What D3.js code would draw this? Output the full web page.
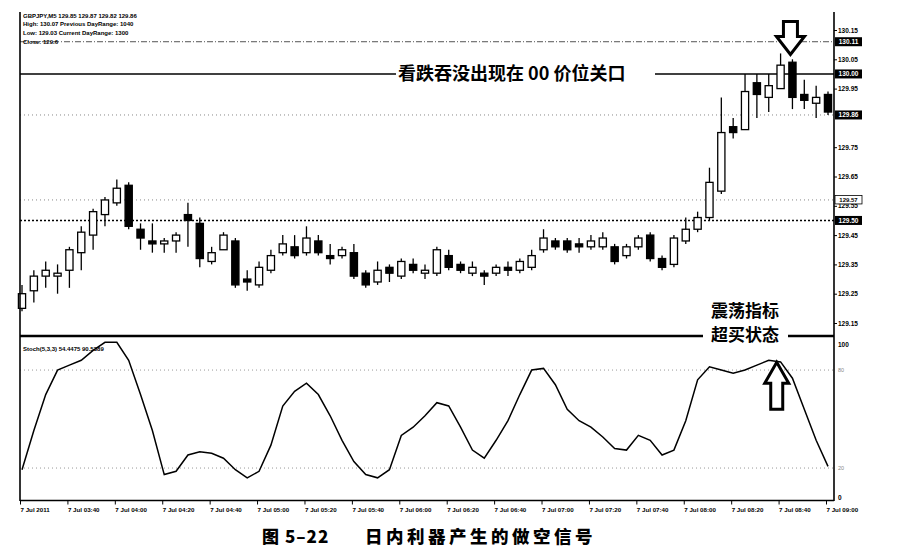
<!DOCTYPE html>
<html><head><meta charset="utf-8">
<script src="https://cdn.jsdelivr.net/npm/d3@7"></script>
<style>body{margin:0;background:#fff}svg{display:block}</style>
</head><body><svg id="c" width="902" height="553"></svg>
<script>
// ---- data ----
const opens  = [129.20,129.26,129.31,129.31,129.33,129.39,129.45,129.52,129.56,129.62,129.47,129.43,129.42,129.43,129.52,129.49,129.36,129.40,129.43,129.30,129.28,129.33,129.39,129.41,129.39,129.43,129.38,129.38,129.39,129.32,129.29,129.34,129.31,129.35,129.32,129.32,129.38,129.35,129.32,129.32,129.32,129.34,129.33,129.34,129.40,129.43,129.43,129.42,129.41,129.41,129.41,129.38,129.41,129.45,129.37,129.35,129.43,129.47,129.51,129.60,129.82,129.81,129.97,129.92,129.95,130.04,129.93,129.90,129.93];
const highs  = [129.28,129.33,129.36,129.35,129.41,129.48,129.54,129.58,129.64,129.63,129.49,129.49,129.44,129.46,129.56,129.51,129.41,129.46,129.44,129.33,129.36,129.40,129.45,129.45,129.48,129.45,129.42,129.41,129.42,129.33,129.36,129.35,129.37,129.37,129.35,129.41,129.40,129.36,129.36,129.33,129.35,129.36,129.37,129.40,129.47,129.44,129.44,129.44,129.45,129.46,129.42,129.42,129.45,129.46,129.38,129.45,129.51,129.53,129.68,129.92,129.85,130.00,130.00,130.00,130.07,130.05,129.98,129.96,129.94];
const lows   = [129.19,129.22,129.27,129.25,129.27,129.33,129.40,129.48,129.55,129.47,129.40,129.39,129.39,129.39,129.41,129.34,129.35,129.40,129.27,129.26,129.27,129.32,129.38,129.37,129.38,129.38,129.35,129.37,129.30,129.27,129.28,129.29,129.30,129.32,129.30,129.31,129.33,129.32,129.31,129.28,129.31,129.31,129.32,129.33,129.39,129.40,129.39,129.39,129.40,129.40,129.35,129.37,129.40,129.36,129.33,129.34,129.42,129.46,129.50,129.59,129.78,129.81,129.85,129.87,129.95,129.88,129.88,129.85,129.86];
const closes = [129.25,129.31,129.33,129.32,129.40,129.46,129.53,129.57,129.61,129.48,129.44,129.42,129.43,129.45,129.50,129.37,129.39,129.45,129.28,129.29,129.34,129.38,129.42,129.38,129.44,129.39,129.37,129.40,129.31,129.28,129.33,129.32,129.36,129.33,129.33,129.40,129.34,129.33,129.34,129.31,129.34,129.33,129.36,129.38,129.44,129.41,129.40,129.41,129.43,129.44,129.36,129.41,129.44,129.37,129.34,129.44,129.47,129.51,129.63,129.80,129.80,129.94,129.93,129.96,130.03,129.92,129.91,129.92,129.87];
const stoch  = [19,43,65,80,83,86,92,97,97,86,65,43,16,18,28,30,29,26,19,14,18,34,58,67,72,65,52,37,24,16,14,19,40,45,52,60,58,45,31,26,37,49,65,80,81,71,56,49,45,39,32,31,40,37,28,31,49,74,82,80,78,80,83,86,85,75,56,37,21];
const xTickIdx    = [0,4,8,12,16,20,24,28,32,36,40,44,48,52,56,60,64,68];
const xTickLabels = ["7 Jul 2011","7 Jul 03:40","7 Jul 04:00","7 Jul 04:20","7 Jul 04:40","7 Jul 05:00","7 Jul 05:20","7 Jul 05:40","7 Jul 06:00","7 Jul 06:20","7 Jul 06:40","7 Jul 07:00","7 Jul 07:20","7 Jul 07:40","7 Jul 08:00","7 Jul 08:20","7 Jul 08:40","7 Jul 09:00"];
const priceTicks  = [130.15,130.05,129.95,129.75,129.65,129.55,129.45,129.35,129.25,129.15];
const markLevels  = [130.11,130.00,129.86,129.50];
const outlineLevel = 129.57;
const stochLevels = [80,20];
const infoLines = ["GBPJPY,M5  129.85 129.87 129.82 129.86","High: 130.07 Previous DayRange: 1040","Low: 129.03 Current DayRange: 1300","Close: 129.6"];

// ---- scales ----
const svg = d3.select("#c");
const L = 20, R = 834;
const x  = d3.scaleLinear().domain([0, 68]).range([22, 828]);
const y  = d3.scaleLinear().domain([129.15, 130.15]).range([323, 30]);
const ys = d3.scaleLinear().domain([0, 100]).range([500.7, 337.4]);
const tiny = "Liberation Sans, Arial, sans-serif";
const cjk = "'Noto Sans CJK SC', sans-serif";

// horizontal level lines
svg.append("line").attr("x1",L).attr("x2",R).attr("y1",y(130.11)).attr("y2",y(130.11))
  .attr("stroke","#555").attr("stroke-width",1).attr("stroke-dasharray","6,2,1,2");
svg.append("line").attr("x1",L).attr("x2",R).attr("y1",y(129.86)).attr("y2",y(129.86))
  .attr("stroke","#888").attr("stroke-width",1).attr("stroke-dasharray","1,3");
svg.append("line").attr("x1",L).attr("x2",R).attr("y1",y(outlineLevel)).attr("y2",y(outlineLevel))
  .attr("stroke","#888").attr("stroke-width",1).attr("stroke-dasharray","1,3");
svg.append("line").attr("x1",L).attr("x2",R).attr("y1",y(129.50)).attr("y2",y(129.50))
  .attr("stroke","#000").attr("stroke-width",1.6).attr("stroke-dasharray","2,2");
// solid "00" line, interrupted by annotation text
svg.append("line").attr("x1",L).attr("x2",396).attr("y1",y(130.00)).attr("y2",y(130.00)).attr("stroke","#000").attr("stroke-width",1.6);
svg.append("line").attr("x1",655).attr("x2",R).attr("y1",y(130.00)).attr("y2",y(130.00)).attr("stroke","#000").attr("stroke-width",1.6);

// stoch level lines
stochLevels.forEach(v=>{
  svg.append("line").attr("x1",L).attr("x2",R).attr("y1",ys(v)).attr("y2",ys(v))
    .attr("stroke","#999").attr("stroke-width",1).attr("stroke-dasharray","1,3");
});

// candles
const idx = d3.range(opens.length);
const g = svg.append("g");
g.selectAll("line.wick").data(idx).join("line").attr("class","wick")
  .attr("x1",i=>x(i)).attr("x2",i=>x(i)).attr("y1",i=>y(highs[i])).attr("y2",i=>y(lows[i]))
  .attr("stroke","#000").attr("stroke-width",1.3);
g.selectAll("rect.body").data(idx).join("rect").attr("class","body")
  .attr("x",i=>x(i)-3.6).attr("width",7.2)
  .attr("y",i=>Math.min(y(opens[i]),y(closes[i])))
  .attr("height",i=>Math.max(1.2,Math.abs(y(opens[i])-y(closes[i]))))
  .attr("fill",i=>closes[i]>=opens[i]?"#fff":"#000")
  .attr("stroke","#000").attr("stroke-width",1.3);

// stochastic line
svg.append("path").datum(stoch)
  .attr("d", d3.line().x((d,i)=>x(i)).y(d=>ys(d)))
  .attr("fill","none").attr("stroke","#000").attr("stroke-width",1.5);

// frame
svg.append("line").attr("x1",L).attr("x2",L).attr("y1",12).attr("y2",501).attr("stroke","#000").attr("stroke-width",1.6);
svg.append("line").attr("x1",R).attr("x2",R).attr("y1",12).attr("y2",501).attr("stroke","#000").attr("stroke-width",1.6);
svg.append("line").attr("x1",L).attr("x2",R).attr("y1",500.5).attr("y2",500.5).attr("stroke","#000").attr("stroke-width",1.6);
svg.append("line").attr("x1",L).attr("x2",703).attr("y1",336).attr("y2",336).attr("stroke","#000").attr("stroke-width",2.6);
svg.append("line").attr("x1",788).attr("x2",R).attr("y1",336).attr("y2",336).attr("stroke","#000").attr("stroke-width",2.6);

// price axis
const ay = svg.append("g").attr("transform",`translate(${R},0)`)
  .call(d3.axisRight(y).tickValues(priceTicks).tickSize(3).tickFormat(d3.format(".2f")));
ay.select(".domain").remove();
ay.selectAll("text").attr("font-family",tiny).attr("font-size",6.5).attr("font-weight","bold").attr("x",4);

// marked levels (black boxes)
markLevels.forEach(v=>{
  svg.append("rect").attr("x",R+1).attr("y",y(v)-4.5).attr("width",27).attr("height",9).attr("fill","#000");
  svg.append("text").attr("x",R+14.5).attr("y",y(v)+2.3).attr("text-anchor","middle")
    .attr("font-family",tiny).attr("font-size",6.5).attr("font-weight","bold").attr("fill","#fff").text(v.toFixed(2));
});
svg.append("rect").attr("x",R+1).attr("y",y(outlineLevel)-4.5).attr("width",27).attr("height",8.5)
  .attr("fill","#fff").attr("stroke","#000").attr("stroke-width",0.8);
svg.append("text").attr("x",R+14.5).attr("y",y(outlineLevel)+2).attr("text-anchor","middle")
  .attr("font-family",tiny).attr("font-size",6).attr("font-weight","bold").text(outlineLevel.toFixed(2));

// stoch axis labels
svg.append("text").attr("x",R+4).attr("y",ys(100)+10).attr("font-family",tiny).attr("font-size",6.5).attr("font-weight","bold").text("100");
svg.append("text").attr("x",R+4).attr("y",ys(0)-1).attr("font-family",tiny).attr("font-size",6.5).attr("font-weight","bold").text("0");
stochLevels.forEach(v=>{
  svg.append("text").attr("x",R+4).attr("y",ys(v)+2).attr("font-family",tiny).attr("font-size",5.5).attr("fill","#888").text(v);
});

// time axis
const ax = svg.append("g").attr("transform","translate(0,500.5)")
  .call(d3.axisBottom(x).tickValues(xTickIdx).tickSize(4).tickFormat((d,i)=>xTickLabels[i]));
ax.select(".domain").remove();
ax.selectAll(".tick line").attr("transform","translate(-2,0)");
ax.selectAll("text").attr("font-family",tiny).attr("font-size",6.2).attr("font-weight","bold")
  .attr("text-anchor","start").attr("x",-2).attr("y",7);

// info text
infoLines.forEach((t,i)=>{
  svg.append("text").attr("x",23).attr("y",17.5+i*8.8).attr("font-family",tiny).attr("font-size",6).attr("font-weight","bold").text(t);
});
svg.append("text").attr("x",23).attr("y",351).attr("font-family",tiny).attr("font-size",6).attr("font-weight","bold").text("Stoch(5,3,3) 54.4475 90.5389");

// annotations
svg.append("text").attr("x",398).attr("y",y(130.00)+6.5).attr("font-family",cjk).attr("font-size",18).attr("font-weight","bold").text("看跌吞没出现在 00 价位关口");
svg.append("text").attr("x",711).attr("y",317).attr("font-family",cjk).attr("font-size",17).attr("font-weight","bold").text("震荡指标");
svg.append("text").attr("x",711).attr("y",341).attr("font-family",cjk).attr("font-size",17).attr("font-weight","bold").text("超买状态");

// arrows
function arrowDown(tx,ty){
  return `M${tx-7},${ty-33}L${tx+7},${ty-33}L${tx+7},${ty-18}L${tx+14},${ty-18}L${tx},${ty}L${tx-14},${ty-18}L${tx-7},${ty-18}Z`;
}
function arrowUp(tx,ty){
  return `M${tx-6},${ty+47}L${tx+6},${ty+47}L${tx+6},${ty+21}L${tx+12},${ty+21}L${tx},${ty}L${tx-12},${ty+21}L${tx-6},${ty+21}Z`;
}
svg.append("path").attr("d",arrowDown(x(65)-2, y(130.07)+1)).attr("fill","#fff").attr("stroke","#000").attr("stroke-width",3).attr("stroke-linejoin","miter");
svg.append("path").attr("d",arrowUp(x(63)+8, ys(86)+2)).attr("fill","#fff").attr("stroke","#000").attr("stroke-width",3).attr("stroke-linejoin","miter");

// caption
svg.append("text").attr("x",262).attr("y",543).attr("font-family",cjk).attr("font-size",17).attr("font-weight","900").attr("letter-spacing",1).text("图 5–22");
svg.append("text").attr("x",365).attr("y",543).attr("font-family",cjk).attr("font-size",17.5).attr("font-weight","900").attr("letter-spacing",3.5).text("日内利器产生的做空信号");
</script></body></html>
